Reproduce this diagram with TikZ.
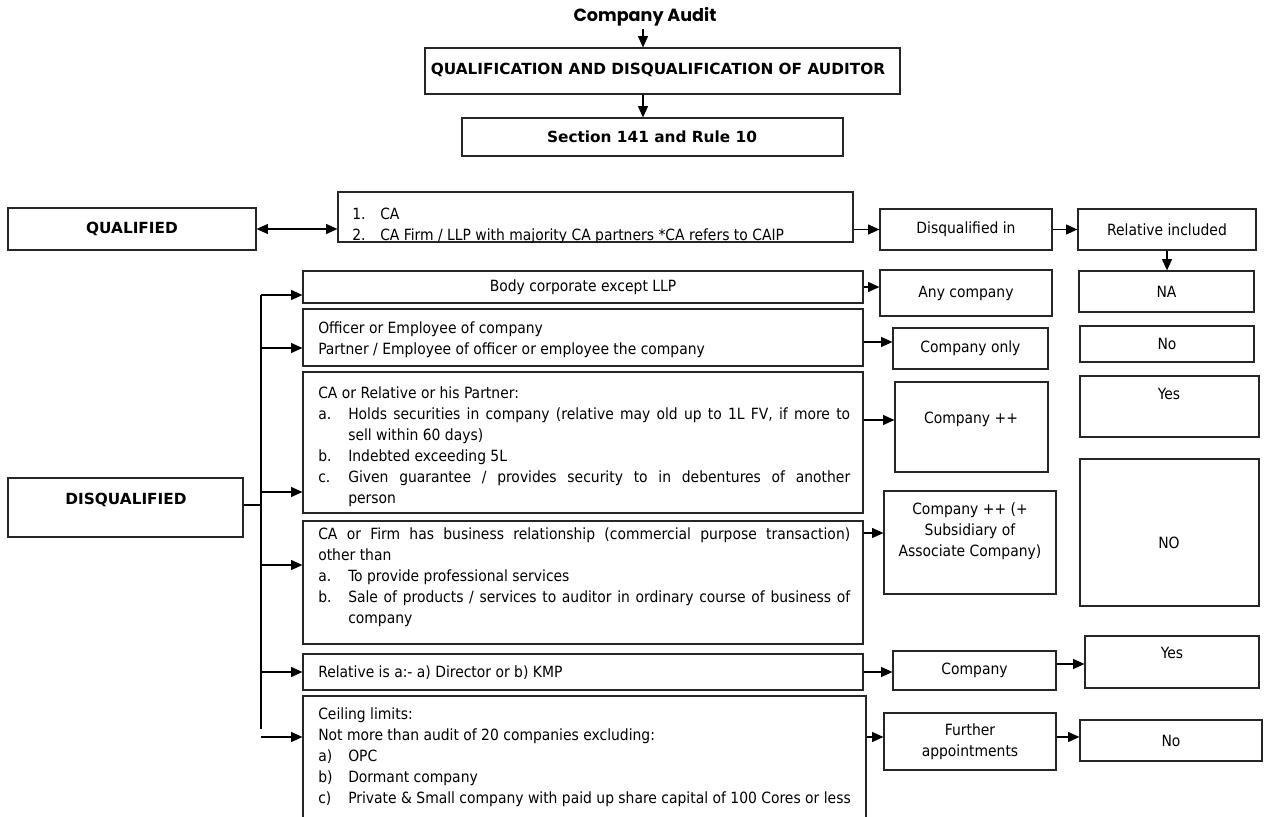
\documentclass[tikz,border=0pt]{standalone}
\usepackage{fontspec}
\setmainfont{DejaVu Sans Condensed}
\newfontfamily\headfont{DejaVu Sans}
\newfontfamily\titlefont{Poppins}
\usetikzlibrary{arrows.meta,fit}

% text block helpers: lines stacked at a fixed baseline distance
\newcommand\txtlines[2]{\vtop{\hsize=#1\relax\baselineskip=15.75pt\relax #2}}
\newcommand\pl[1]{\hbox{#1}}
\newcommand\jl[1]{\hbox to \hsize{#1}}
\newcommand\li[2]{\hbox{\hbox to 22.5pt{#1\hfil}#2}}
\newcommand\lij[2]{\hbox to \hsize{\hbox to 22.5pt{#1\hfil}#2}}
\newcommand\lic[1]{\hbox{\hskip22.5pt #1}}

\tikzset{
  box/.style={draw=black!85, line width=0.9pt, inner sep=0pt, fit={#1}},
  tip/.tip={Triangle[length=8.5pt,width=7.5pt]},
  arr/.style={line width=0.9pt, -tip},
  dblarr/.style={line width=0.9pt, tip-tip},
  txt/.style={inner sep=0pt, font=\fontsize{11.6}{15.75}\selectfont},
  ctxt/.style={txt, align=center},
  btxt/.style={inner sep=0pt, font=\headfont\fontsize{11.5}{15.75}\selectfont\bfseries},
}

\begin{document}
\begin{tikzpicture}[x=0.75pt,y=-0.75pt]
\clip (0,0) rectangle (1264,817);
\fill[white] (0,0) rectangle (1264,817);

% ---- header ----
\node[inner sep=0pt, font=\titlefont\fontsize{13.2}{16}\selectfont\bfseries] (title) at (645,17) {Company Audit};
\node[box={(425,48) (900,94)}] (topbox) {};
\node[btxt] (ttop) at (658,70) {QUALIFICATION AND DISQUALIFICATION OF AUDITOR};
\node[box={(462,118) (843,156)}] (sect) {};
\node[btxt] (tsect) at (652,137) {Section 141 and Rule 10};
\coordinate (hx) at (643,29);
\draw[arr] (hx) -- (hx |- topbox.north);
\draw[arr] (topbox.south -| hx) -- (sect.north -| hx);

% ---- qualified row ----
\node[box={(8,208) (256,250)}] (qual) {};
\node[btxt] (tqual) at (132,229) {QUALIFIED};
\node[box={(338,192) (853,242)}] (cabox) {};
\begin{scope}
  \clip (cabox.south west) rectangle (cabox.north east);
  \node[txt, anchor=base west] (tca) at (352,219.5) {\txtlines{480pt}{%
    \pl{\hbox to 21pt{1.\hfil}CA}
    \pl{\hbox to 21pt{2.\hfil}CA Firm / LLP with majority CA partners *CA refers to CAIP}}};
\end{scope}
\node[box={(880,209) (1052,250)}] (disqin) {};
\node[txt] (tdisqin) at (disqin) {Disqualified in};
\node[box={(1078,209) (1256,250)}] (relinc) {};
\node[txt] (trelinc) at (relinc) {Relative included};
\node[box={(1079,271) (1254,312)}] (na) {};
\node[txt] (tna) at (na) {NA};

\draw[dblarr] (qual.east) -- (cabox.west |- qual.east);
\draw[arr] (cabox.east |- disqin.west) -- (disqin.west);
\draw[arr] (disqin.east) -- (relinc.west |- disqin.east);
\draw[arr] (relinc.south) -- (na.north -| relinc.south);

% ---- disqualification grounds ----
\node[box={(303,271) (863,303)}] (bodycorp) {};
\node[txt] (tbodycorp) at (bodycorp) {Body corporate except LLP};

\node[box={(303,309) (863,366)}] (officer) {};
\node[txt, anchor=base west] (tofficer) at (318,333) {\txtlines{399pt}{%
  \pl{Officer or Employee of company}
  \pl{Partner / Employee of officer or employee the company}}};

\node[box={(303,372) (863,513)}] (carel) {};
\node[txt, anchor=base west] (tcarel) at (318,398) {\txtlines{399pt}{%
  \pl{CA or Relative or his Partner:}
  \lij{a.}{Holds securities in company (relative may old up to 1L FV, if more to}
  \lic{sell within 60 days)}
  \li{b.}{Indebted exceeding 5L}
  \lij{c.}{Given guarantee / provides security to in debentures of another}
  \lic{person}}};

\node[box={(303,521) (863,644)}] (cafirm) {};
\node[txt, anchor=base west] (tcafirm) at (318,539) {\txtlines{399pt}{%
  \jl{CA or Firm has business relationship (commercial purpose transaction)}
  \pl{other than}
  \li{a.}{To provide professional services}
  \lij{b.}{Sale of products / services to auditor in ordinary course of business of}
  \lic{company}}};

\node[box={(303,654) (863,690)}] (relis) {};
\node[txt, anchor=base west] (trelis) at (318,677) {Relative is a:- a) Director or b) KMP};

\node[box={(303,696) (866,830)}] (ceiling) {};
\node[txt, anchor=base west] (tceiling) at (318,719) {\txtlines{410pt}{%
  \pl{Ceiling limits:}
  \pl{Not more than audit of 20 companies excluding:}
  \li{a)}{OPC}
  \li{b)}{Dormant company}
  \li{c)}{Private \& Small company with paid up share capital of 100 Cores or less}}};

% ---- scope of disqualification ----
\node[box={(880,270) (1052,316)}] (anyco) {};
\node[txt] (tanyco) at (anyco) {Any company};
\node[box={(893,328) (1048,369)}] (componly) {};
\node[txt] (tcomponly) at (componly) {Company only};
\node[box={(895,382) (1048,472)}] (compp) {};
\node[txt] (tcompp) at (971,419) {Company ++};
\node[box={(884,491) (1056,594)}] (comppp) {};
\node[ctxt] (tcomppp) at (970,531) {Company ++ (+\\Subsidiary of\\Associate Company)};
\node[box={(893,651) (1056,690)}] (company) {};
\node[txt] (tcompany) at (company) {Company};
\node[box={(884,713) (1056,770)}] (further) {};
\node[ctxt] (tfurther) at (further) {Further\\appointments};

% ---- relative included? ----
\node[box={(1080,326) (1254,362)}] (no1) {};
\node[txt] (tno1) at (no1) {No};
\node[box={(1080,376) (1259,437)}] (yes1) {};
\node[txt] (tyes1) at (1169,394) {Yes};
\node[box={(1080,459) (1259,606)}] (nobig) {};
\node[txt] (tnobig) at (1169,543) {NO};
\node[box={(1085,636) (1259,688)}] (yes2) {};
\node[txt] (tyes2) at (1172,653) {Yes};
\node[box={(1080,720) (1262,761)}] (no2) {};
\node[txt] (tno2) at (no2) {No};

% ---- disqualified trunk ----
\node[box={(8,478) (243,537)}] (disq) {};
\node[btxt] (tdisq) at (126,500) {DISQUALIFIED};
\coordinate (jn) at (261,505);
\coordinate (ttop) at (261,295);
\coordinate (tbot) at (261,729);
\coordinate (tfree) at (261,737);
\draw[line width=0.9pt] (disq.east |- jn) -- (jn);
\draw[line width=0.9pt] (ttop) -- (tbot);
\draw[arr] (ttop) -- (bodycorp.west |- ttop);
\draw[arr] (jn |- 0,348) -- (officer.west |- 0,348);
\draw[arr] (jn |- 0,492) -- (carel.west |- 0,492);
\draw[arr] (jn |- 0,565) -- (cafirm.west |- 0,565);
\draw[arr] (jn |- relis.west) -- (relis.west);
\draw[arr] (tfree) -- (ceiling.west |- tfree);

% ---- grounds to scope ----
\draw[arr] (bodycorp.east) -- (anyco.west |- bodycorp.east);
\draw[arr] (officer.east |- 0,342) -- (componly.west |- 0,342);
\draw[arr] (carel.east |- 0,420) -- (compp.west |- 0,420);
\draw[arr] (cafirm.east |- 0,533) -- (comppp.west |- 0,533);
\draw[arr] (relis.east) -- (company.west |- relis.east);
\draw[arr] (ceiling.east |- 0,737) -- (further.west |- 0,737);
\draw[arr] (company.east |- 0,664) -- (yes2.west |- 0,664);
\draw[arr] (further.east |- 0,737) -- (no2.west |- 0,737);
\end{tikzpicture}
\end{document}
